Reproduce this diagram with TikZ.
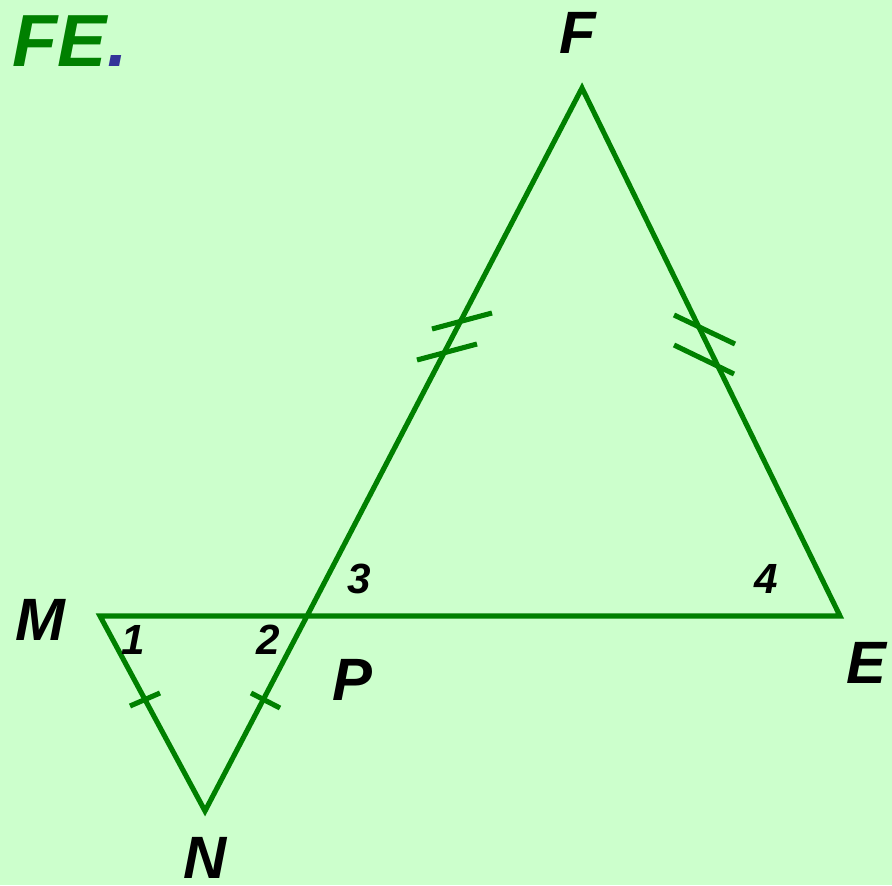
\documentclass[tikz,border=0pt]{standalone}
\usepackage{fontspec}
\setmainfont{Liberation Sans}
\usetikzlibrary{calc,positioning}
\definecolor{bgreen}{HTML}{CCFFCC}
\definecolor{lgreen}{HTML}{008000}
\definecolor{dotblue}{HTML}{333399}
\tikzset{
  figline/.style={draw=lgreen,line width=1.45pt},
  tickmark/.style={draw=lgreen,line width=1.45pt},
  ptlabel/.style={font=\fontsize{17}{20}\selectfont\bfseries\itshape,text=black,inner sep=0pt},
  anglabel/.style={font=\fontsize{12}{14}\selectfont\bfseries\itshape,text=black,inner sep=0pt}
}

\begin{document}
\begin{tikzpicture}[x=0.01cm,y=-0.01cm]
  % Background
  \fill[bgreen] (0,0) rectangle (892,885);
  \useasboundingbox (0,0) rectangle (892,885);

  % Title
  \node[anchor=base west,inner sep=0pt,text=lgreen,
    font=\fontsize{21}{24}\selectfont\bfseries\itshape] (title) at (12,67)
    {FE\textcolor{dotblue}{.}};

  % Points
  \coordinate (F) at (582,88);
  \coordinate (E) at (840,616);
  \coordinate (M) at (100,616);
  \coordinate (N) at (205,811);
  \coordinate (P) at (307,616);

  % Triangles
  \draw[figline] (F) -- (E) -- (M) -- (N) -- (P) -- cycle;

  % Ticks
  \draw[tickmark]
    (432,329) -- (492,313)
    (417,360) -- (477,344)
    (674,315) -- (735,344)
    (674,345) -- (734,374)
    (130,706) -- (160,693)
    (251,693) -- (280,708);

  % Point labels
  \node[ptlabel] (lF) at (578,33)  {F};
  \node[ptlabel] (lM) at (40,620)  {M};
  \node[ptlabel] (lN) at (205,858) {N};
  \node[ptlabel] (lP) at (352,680) {P};
  \node[ptlabel] (lE) at (866,663) {E};

  % Angle labels
  \node[anglabel] (a1) at (133,640) {1};
  \node[anglabel] (a2) at (268,640) {2};
  \node[anglabel] (a3) at (359,579) {3};
  \node[anglabel] (a4) at (766,579) {4};
\end{tikzpicture}
\end{document}
